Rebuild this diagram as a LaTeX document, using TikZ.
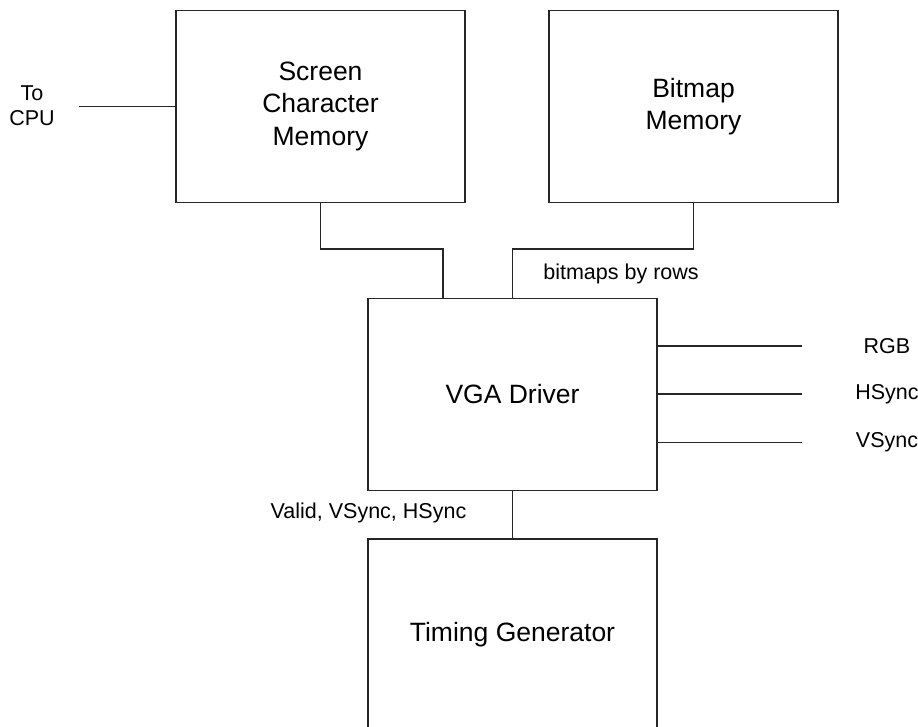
\documentclass[tikz,border=0pt]{standalone}
\usepackage{fontspec}
\setmainfont{Liberation Sans}
\usetikzlibrary{calc}
\begin{document}
\begin{tikzpicture}[x=10pt,y=10pt]
\tikzstyle{every node}+=[inner sep=0pt]
\tikzstyle{block}=[draw=black!85, line width=1.1pt, minimum width=289pt, minimum height=192pt, align=center, font=\fontsize{26.5}{32.5}\selectfont]
\tikzstyle{lbl}=[align=center, font=\fontsize{21.5}{25}\selectfont]
\tikzstyle{wire}=[draw=black!85, line width=1.1pt]
\useasboundingbox (0,0) rectangle (91.8,-72.6);
\clip (0,0) rectangle (91.8,-72.6);
% blocks
\node [block] (scm) at (32.05,-10.64) {Screen\\Character\\Memory};
\node [block] (bmm) at (69.35,-10.64) {Bitmap\\Memory};
\node [block] (vga) at (51.25,-39.44) {VGA Driver};
\node [block] (tg) at (51.25,-63.5) {Timing Generator};
% cpu side
\node [lbl] (cpu) at (3.2,-10.55) {To\\CPU};
\coordinate (cpuend) at (7.9,-10.64);
\draw [wire] (cpuend) -- (scm.west);
% memories into the driver
\draw [wire] (scm.south) -- ++(0,-4.6) -| ($(vga.north)+(-6.95,0)$);
\draw [wire] (bmm.south) -- ++(0,-4.6) -| (vga.north);
\node [lbl] (rows) at (62.1,-27.4) {bitmaps by rows};
% timing
\draw [wire] (vga) -- (tg);
\node [lbl] (sync) at (36.85,-51.3) {Valid, VSync, HSync};
% outputs
\foreach \sname/\y in {RGB/-34.6, HSync/-39.4, VSync/-44.27} {
  \coordinate (\sname end) at (80.2,\y);
  \draw [wire] (vga.east |- \sname end) -- (\sname end);
  \node [lbl] (\sname) at (88.7,\y) {\sname};
}
\end{tikzpicture}
\end{document}
